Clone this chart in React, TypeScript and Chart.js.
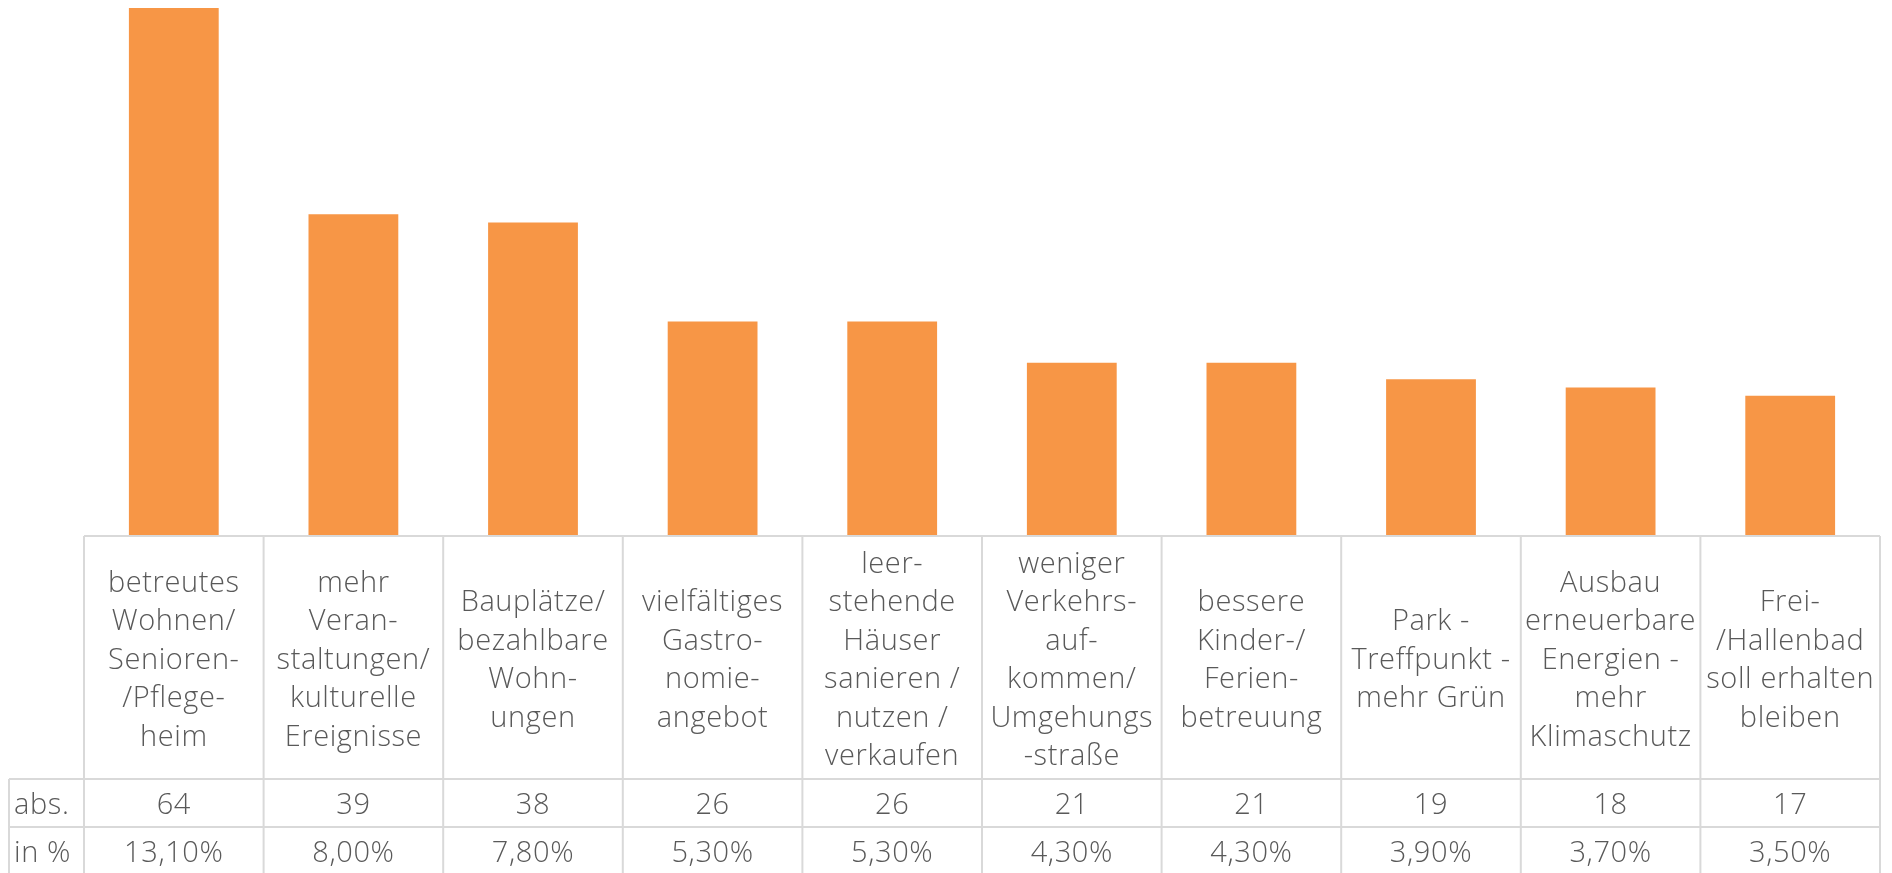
import React, { useEffect, useRef } from "react";
import { Chart, registerables } from "chart.js";

Chart.register(...registerables);

const categories: string[][] = [
  ["betreutes", "Wohnen/", "Senioren-", "/Pflege-", "heim"],
  ["mehr", "Veran-", "staltungen/", "kulturelle", "Ereignisse"],
  ["Bauplätze/", "bezahlbare", "Wohn-", "ungen"],
  ["vielfältiges", "Gastro-", "nomie-", "angebot"],
  ["leer-", "stehende", "Häuser", "sanieren /", "nutzen /", "verkaufen"],
  ["weniger", "Verkehrs-", "auf-", "kommen/", "Umgehungs", "-straße"],
  ["bessere", "Kinder-/", "Ferien-", "betreuung"],
  ["Park -", "Treffpunkt -", "mehr Grün"],
  ["Ausbau", "erneuerbare", "Energien -", "mehr", "Klimaschutz"],
  ["Frei-", "/Hallenbad", "soll erhalten", "bleiben"],
];
const absValues: number[] = [64, 39, 38, 26, 26, 21, 21, 19, 18, 17];
const pctLabels: string[] = ["13,10%", "8,00%", "7,80%", "5,30%", "5,30%", "4,30%", "4,30%", "3,90%", "3,70%", "3,50%"];
const rowHeaders: string[] = ["abs.", "in %"];

const BAR_COLOR = "#F79646";
const GRID_COLOR = "#D9D9D9";
const TEXT_COLOR = "#595959";
const FONT = "300 29px 'Open Sans', Lato, sans-serif";

const tablePlugin = {
  id: "dataTable",
  afterDraw(chart: any) {
    const ctx = chart.ctx;
    const x = chart.scales.x;
    const area = chart.chartArea;
    const n = categories.length;
    const left = area.left;
    const right = area.right;
    const colW = (right - left) / n;
    const top = area.bottom;
    const labelBottom = top + 243;
    const rowH = 48;
    const row1Bottom = labelBottom + rowH;
    const row2Bottom = row1Bottom + rowH;
    const headerLeft = 9;
    ctx.save();
    ctx.strokeStyle = GRID_COLOR;
    ctx.lineWidth = 2;
    ctx.beginPath();
    ctx.moveTo(left, top);
    ctx.lineTo(right, top);
    ctx.moveTo(headerLeft, labelBottom);
    ctx.lineTo(right, labelBottom);
    ctx.moveTo(headerLeft, row1Bottom);
    ctx.lineTo(right, row1Bottom);
    ctx.moveTo(headerLeft, row2Bottom);
    ctx.lineTo(right, row2Bottom);
    for (let i = 0; i <= n; i++) {
      const xx = left + i * colW;
      ctx.moveTo(xx, top);
      ctx.lineTo(xx, row2Bottom);
    }
    ctx.moveTo(headerLeft, labelBottom);
    ctx.lineTo(headerLeft, row2Bottom);
    ctx.stroke();

    ctx.fillStyle = TEXT_COLOR;
    ctx.font = FONT;
    try { (ctx as any).letterSpacing = "0.6px"; } catch (e) {}
    ctx.textBaseline = "middle";
    ctx.textAlign = "center";
    const lineH = 38.5;
    const labelMid = (top + labelBottom) / 2 + 3;
    categories.forEach((lines, i) => {
      const cx = x.getPixelForValue(i);
      const startY = labelMid - ((lines.length - 1) * lineH) / 2;
      lines.forEach((ln, j) => {
        ctx.fillText(ln, cx, startY + j * lineH);
      });
      ctx.fillText(String(absValues[i]), cx, (labelBottom + row1Bottom) / 2 + 3);
      ctx.fillText(pctLabels[i], cx, (row1Bottom + row2Bottom) / 2 + 3);
    });
    ctx.textAlign = "left";
    ctx.fillText(rowHeaders[0], 14, (labelBottom + row1Bottom) / 2 + 3);
    ctx.fillText(rowHeaders[1], 14, (row1Bottom + row2Bottom) / 2 + 3);
    ctx.restore();
  },
};

export default function App() {
  const ref = useRef<HTMLCanvasElement | null>(null);
  useEffect(() => {
    if (!ref.current) return;
    const chart = new Chart(ref.current, {
      type: "bar",
      data: {
        labels: categories.map((c) => c.join(" ")),
        datasets: [
          {
            data: absValues,
            backgroundColor: BAR_COLOR,
            borderWidth: 0,
            barPercentage: 0.5,
            categoryPercentage: 1,
          },
        ],
      },
      options: {
        animation: false,
        responsive: false,
        maintainAspectRatio: false,
        layout: { padding: { left: 84, right: 12, top: 8, bottom: 337 } },
        plugins: { legend: { display: false }, tooltip: { enabled: false } },
        scales: {
          x: { display: false, offset: true },
          y: { display: false, min: 0, max: 64 },
        },
      },
      plugins: [tablePlugin],
    });
    return () => chart.destroy();
  }, []);
  return (
    <canvas
      ref={ref}
      width={1892}
      height={873}
      style={{ position: "fixed", left: 0, top: 0, width: 1892, height: 873 }}
    />
  );
}
